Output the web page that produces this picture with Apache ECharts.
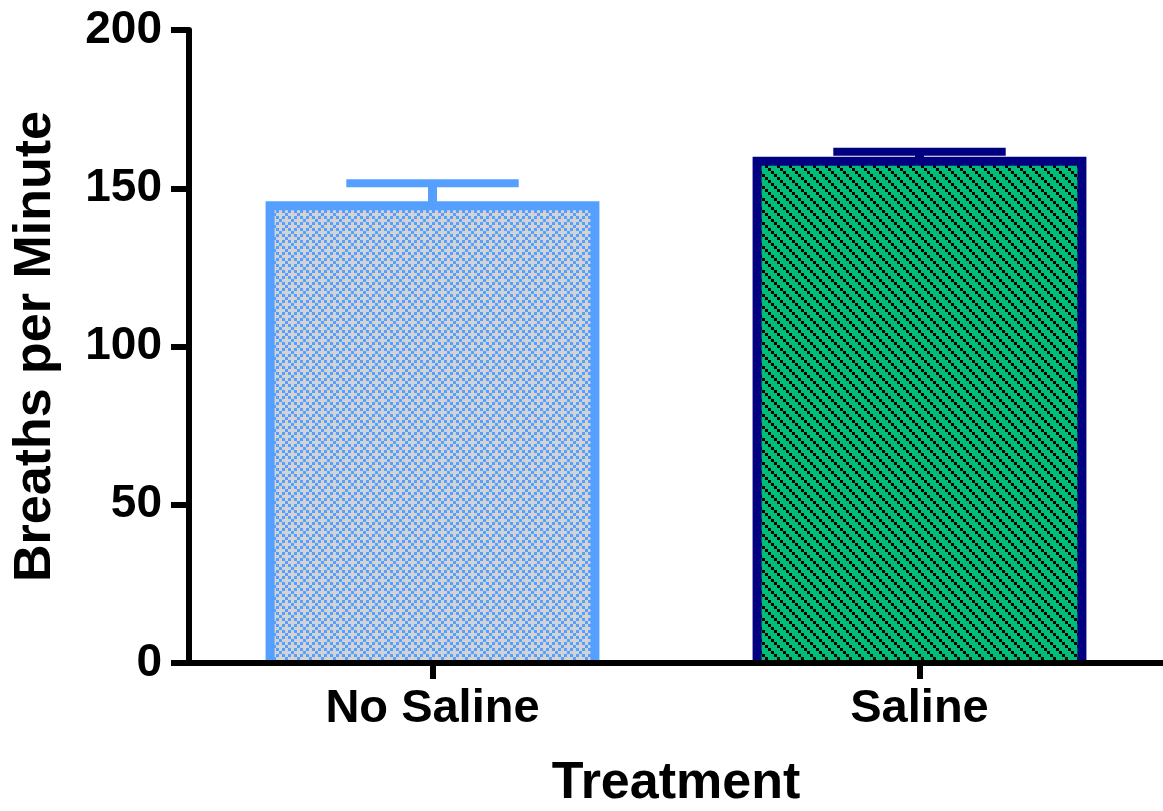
<!DOCTYPE html>
<html>
<head>
<meta charset="utf-8">
<style>
    html, body { margin: 0; padding: 0; background: #fff; }
    #chart { width: 1163px; height: 811px; }
</style>
<script src="https://cdn.jsdelivr.net/npm/echarts@6/dist/echarts.min.js"></script>
</head>
<body>
<div id="chart"></div>
<script>
// data
var categories = ['No Saline', 'Saline'];
var means = [144.5, 158.5];
var sem = [7.1, 3.0];
var yTicks = [0, 50, 100, 150, 200];

var FONT = '"Liberation Sans", Arial, sans-serif';

/**
 * small repeating tile for the bar fills
 */
function makeTile(size, bg, fg, test) {
    var c = document.createElement('canvas');
    c.width = size;
    c.height = size;
    var ctx = c.getContext('2d');
    ctx.fillStyle = bg;
    ctx.fillRect(0, 0, size, size);
    ctx.fillStyle = fg;
    for (var y = 0; y < size; y++) {
        for (var x = 0; x < size; x++) {
            if (test(x, y)) {
                ctx.fillRect(x, y, 1, 1);
            }
        }
    }
    return c;
}

// blue checker-diagonal on grey
var tileBlue = makeTile(12, '#d3d3d3', '#55a0ff', function (x, y) {
    var i = Math.floor(x / 3), j = Math.floor(y / 3);
    return ((i - j + 4) % 4) === 0 || ((i - j + 4) % 4 === 2 && j % 2 === 0);
});
// black staircase hatch on green
var tileGreen = makeTile(12, '#00bd78', '#000000', function (x, y) {
    var i = Math.floor(x / 3), j = Math.floor(y / 3);
    return ((i - j + 4) % 4) === 0;
});

var fills = [{image: tileBlue, repeat: 'repeat'}, {image: tileGreen, repeat: 'repeat'}];
var borders = ['#55a0ff', '#000080'];

var barData = means.map(function (v, i) {
    return [i, v];
});
var errData = means.map(function (v, i) {
    return [i, v, v + sem[i]];
});

var myChart = echarts.init(document.getElementById('chart'));
var option = {
    animation: false,
    grid: {left: 189, right: 0, top: 30, bottom: 148, outerBoundsMode: 'none'},
    xAxis: {
        type: 'category',
        z: 5,
        data: categories,
        name: 'Treatment',
        nameLocation: 'middle',
        nameGap: 95,
        nameTextStyle: {fontFamily: FONT, fontWeight: 'bold', fontSize: 52, color: '#000'},
        axisLine: {lineStyle: {color: '#000', width: 6}},
        axisTick: {show: true, alignWithLabel: true, length: 16, lineStyle: {color: '#000', width: 6}},
        axisLabel: {fontFamily: FONT, fontWeight: 'bold', fontSize: 47, color: '#000', margin: 23}
    },
    yAxis: {
        type: 'value',
        z: 5,
        min: yTicks[0],
        max: yTicks[yTicks.length - 1],
        interval: yTicks[1] - yTicks[0],
        name: 'Breaths per Minute',
        nameLocation: 'middle',
        nameGap: 127,
        nameTextStyle: {fontFamily: FONT, fontWeight: 'bold', fontSize: 52, color: '#000'},
        splitLine: {show: false},
        axisLine: {show: true, lineStyle: {color: '#000', width: 6}},
        axisTick: {show: true, length: 18, lineStyle: {color: '#000', width: 6}},
        axisLabel: {fontFamily: FONT, fontWeight: 'bold', fontSize: 46, color: '#000', margin: 27}
    },
    series: [
        {
            // error bars (upper only)
            type: 'custom',
            z: 1,
            data: errData,
            renderItem: function (params, api) {
                var i = api.value(0);
                var base = api.coord([i, api.value(1)]);
                var top = api.coord([i, api.value(2)]);
                var half = api.size([1, 0])[0] * 0.177;
                var col = borders[i];
                return {
                    type: 'group',
                    children: [
                        {
                            type: 'line',
                            shape: {x1: base[0], y1: base[1], x2: top[0], y2: top[1]},
                            style: {stroke: col, lineWidth: 9}
                        },
                        {
                            type: 'line',
                            shape: {x1: top[0] - half, y1: top[1], x2: top[0] + half, y2: top[1]},
                            style: {stroke: col, lineWidth: 8}
                        }
                    ]
                };
            }
        },
        {
            // bars: pattern fill, outline on three sides
            type: 'custom',
            z: 2,
            data: barData,
            renderItem: function (params, api) {
                var i = api.value(0);
                var top = api.coord([i, api.value(1)]);
                var base = api.coord([i, 0]);
                var half = api.size([1, 0])[0] * 0.3335;
                var l = top[0] - half, r = top[0] + half;
                return {
                    type: 'group',
                    children: [
                        {
                            type: 'rect',
                            shape: {x: l, y: top[1], width: r - l, height: base[1] - top[1]},
                            style: {fill: fills[i]}
                        },
                        {
                            type: 'polyline',
                            shape: {points: [[l, base[1]], [l, top[1]], [r, top[1]], [r, base[1]]]},
                            style: {stroke: borders[i], lineWidth: 9, fill: null, lineJoin: 'miter'}
                        }
                    ]
                };
            }
        }
    ]
};
myChart.setOption(option, true);
</script>
</body>
</html>
